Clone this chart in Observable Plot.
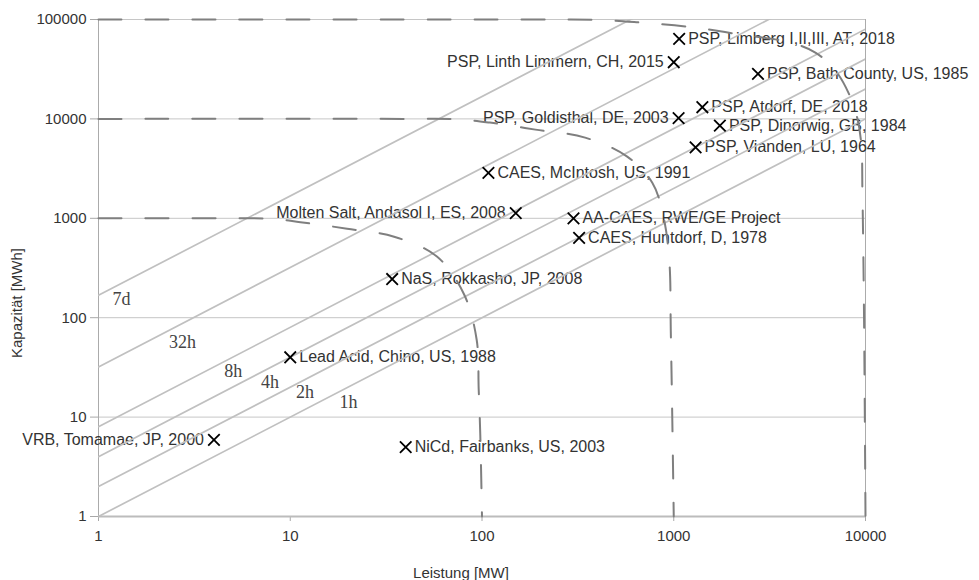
<!DOCTYPE html>
<html>
<head>
<meta charset="utf-8">
<script src="https://cdn.jsdelivr.net/npm/d3@7"></script>
<script src="https://cdn.jsdelivr.net/npm/@observablehq/plot@0.6"></script>
<style>
  html, body { margin: 0; padding: 0; background: #ffffff; }
  #chart svg [aria-label^="x-axis"] text,
  #chart svg [aria-label^="y-axis"] text { fill: #333333; }
</style>
</head>
<body>
<div id="chart"></div>
<script>
// ---- data ----
const storageNames = [
  "PSP, Limberg I,II,III, AT, 2018",
  "PSP, Linth Limmern, CH, 2015",
  "PSP, Bath County, US, 1985",
  "PSP, Atdorf, DE, 2018",
  "PSP, Goldisthal, DE, 2003",
  "PSP, Dinorwig, GB, 1984",
  "PSP, Vianden, LU, 1964",
  "CAES, McIntosh, US, 1991",
  "Molten Salt, Andasol I, ES, 2008",
  "AA-CAES, RWE/GE Project",
  "CAES, Huntdorf, D, 1978",
  "NaS, Rokkasho, JP, 2008",
  "Lead Acid, Chino, US, 1988",
  "VRB, Tomamae, JP, 2000",
  "NiCd, Fairbanks, US, 2003"
];
const powerMW = [1067, 1000, 2750, 1410, 1060, 1740, 1300, 108, 150, 300, 321, 34, 10, 4, 40];
const capacityMWh = [63900, 37150, 28400, 13100, 10200, 8570, 5180, 2860, 1130, 1000, 634, 245, 40, 5.9, 5];
const labelSide = ["right", "left", "right", "right", "left", "right", "right", "right", "left", "right", "right", "right", "right", "left", "right"];

const durationHours = [1, 2, 4, 8, 32, 168];
const durationLabels = ["1h", "2h", "4h", "8h", "32h", "7d"];
const durationLabelX = [20.1, 11.95, 7.85, 5.05, 2.74, 1.32];
const durationLabelY = [14.0, 17.6, 22.3, 29.2, 56.3, 154];

const outerCurveX = [1, 200, 420, 669, 1220, 2225, 4056, 5478, 6965, 8141, 9073, 9520, 9634, 9808, 10000];
const outerCurveY = [100000, 100000, 99000, 93300, 84000, 70600, 58700, 46500, 30650, 18400, 10070, 5380, 1897, 148, 1];
const middleCurveX = [1, 40, 75, 110, 190, 345, 572, 773, 882, 948, 965, 983, 1000];
const middleCurveY = [10000, 10000, 9900, 9180, 7800, 6480, 4170, 2280, 1060, 374, 74, 9.2, 1];
const innerCurveX = [1, 4.5, 8.2, 11.3, 19.8, 34.8, 58.4, 80.8, 93.8, 96.1, 97.9, 100];
const innerCurveY = [1000, 1000, 985, 913, 786, 653, 410, 170, 60, 19.2, 6.9, 1];

const xTicks = [1, 10, 100, 1000, 10000];
const yTicks = [1, 10, 100, 1000, 10000, 100000];
const xTitle = "Leistung [MW]";
const yTitle = "Kapazität [MWh]";

// ---- tables built from the arrays ----
const points = storageNames.map((name, i) => ({name, x: powerMW[i], y: capacityMWh[i], side: labelSide[i]}));
const xDomain = [xTicks[0], xTicks[xTicks.length - 1]];
const yDomain = [yTicks[0], yTicks[yTicks.length - 1]];
const diagonals = durationHours.flatMap(h => xDomain.map(x => ({h, x, y: h * x})));
const durLbl = durationLabels.map((t, i) => ({t, x: durationLabelX[i], y: durationLabelY[i]}));
const curves = [
  ...outerCurveX.map((x, i) => ({c: "outer", x, y: outerCurveY[i]})),
  ...middleCurveX.map((x, i) => ({c: "middle", x, y: middleCurveY[i]})),
  ...innerCurveX.map((x, i) => ({c: "inner", x, y: innerCurveY[i]}))
];

const font = "'Liberation Sans', Arial, sans-serif";

const chart = Plot.plot({
  width: 979,
  height: 580,
  marginLeft: 98,
  marginRight: 114,
  marginTop: 19,
  marginBottom: 64,
  style: {background: "#ffffff", color: "#a8a8a8", fontFamily: font, fontSize: "15px"},
  x: {type: "log", domain: xDomain, ticks: xTicks, tickFormat: d => String(d), tickSize: 5, tickPadding: 9, label: null},
  y: {type: "log", domain: yDomain, ticks: yTicks, tickFormat: d => String(d), tickSize: 8, tickPadding: 4, label: null},
  marks: [
    Plot.ruleY(yTicks.slice(1), {stroke: "#c6c6c6", strokeWidth: 1}),
    Plot.ruleX([xDomain[0]], {stroke: "#ababab", strokeWidth: 1}),
    Plot.ruleX([xDomain[1]], {stroke: "#ababab", strokeWidth: 1}),
    Plot.ruleY([yDomain[0]], {stroke: "#bcbcbc", strokeWidth: 2}),
    Plot.text(points.filter(d => d.side === "right"), {x: "x", y: "y", text: "name", textAnchor: "start", dx: 9, fill: "#333333", fontSize: 16, fontFamily: font}),
    Plot.text(points.filter(d => d.side === "left"), {x: "x", y: "y", text: "name", textAnchor: "end", dx: -10, fill: "#333333", fontSize: 16, fontFamily: font}),
    Plot.line(diagonals, {x: "x", y: "y", z: "h", stroke: "#c0c0c0", strokeWidth: 1.7, clip: true}),
    Plot.text(durLbl, {x: "x", y: "y", text: "t", textAnchor: "middle", fill: "#444444", fontSize: 18, fontFamily: "'Liberation Serif', 'Times New Roman', serif"}),
    Plot.line(curves, {x: "x", y: "y", z: "c", curve: "catmull-rom", stroke: "#7f7f7f", strokeWidth: 2, strokeDasharray: "23,24"}),
    Plot.dot(points, {x: "x", y: "y", symbol: "times", r: 5.3, stroke: "#000000", strokeWidth: 1.8}),
    Plot.text([yTitle], {text: d => d, frameAnchor: "left", rotate: -90, textAnchor: "middle", lineAnchor: "middle", dx: -81, dy: 35, fill: "#333333", fontSize: 15, fontFamily: font}),
    Plot.text([xTitle], {text: d => d, frameAnchor: "bottom", textAnchor: "middle", lineAnchor: "middle", dx: -21, dy: 57, fill: "#333333", fontSize: 15, fontFamily: font})
  ]
});
document.getElementById("chart").appendChild(chart);
</script>
</body>
</html>
